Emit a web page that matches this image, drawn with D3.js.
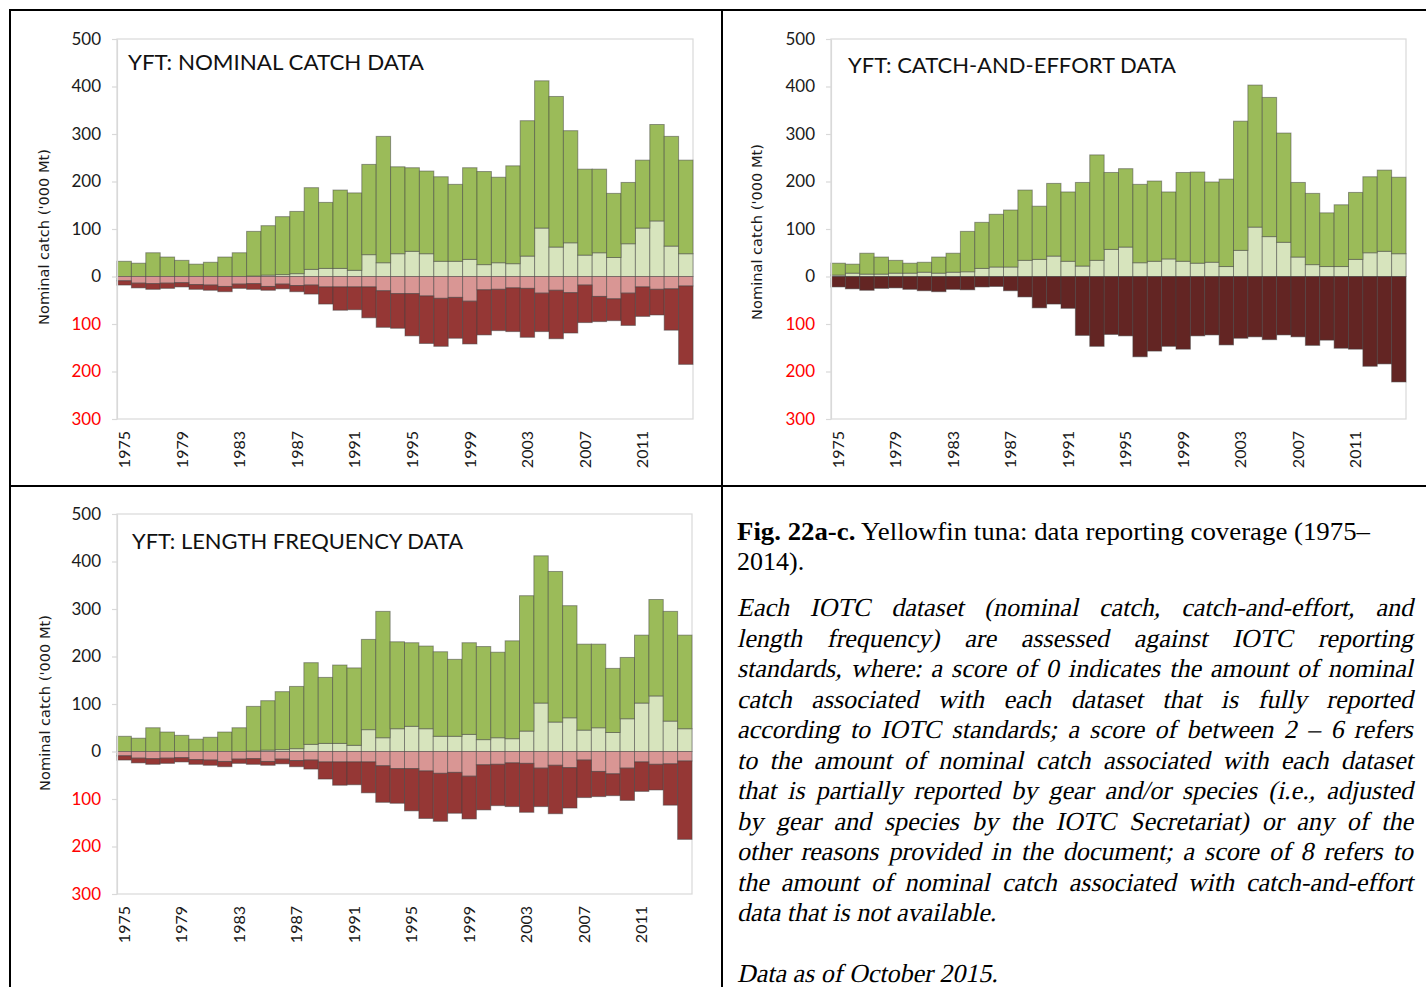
<!DOCTYPE html>
<html><head><meta charset="utf-8">
<script src="https://cdn.jsdelivr.net/npm/d3@7"></script>
<style>body{margin:0;background:#fff}svg{display:block}</style>
</head><body>
<svg id="fig" width="1426" height="987"></svg>
<script>
// ---------- DATA ('000 Mt) ----------
const years = [1975,1976,1977,1978,1979,1980,1981,1982,1983,1984,1985,1986,1987,1988,1989,1990,1991,1992,1993,1994,
               1995,1996,1997,1998,1999,2000,2001,2002,2003,2004,2005,2006,2007,2008,2009,2010,2011,2012,2013,2014];
const yearTicks = [1975,1979,1983,1987,1991,1995,1999,2003,2007,2011];
const yTicks = [500,400,300,200,100,0,-100,-200,-300];

// a) Nominal catch
const nomPosLower = [0,0,0,0,0,0,0,0,0,1,3,4,6,15,17,17,13,46,29,48,53,48,32,32,36,25,29,27,43,102,62,71,45,50,40,69,102,117,64,48];
const nomPosUpper = [32,28,50,41,34,26,30,41,50,94,104,122,131,172,139,165,163,190,266,183,176,174,178,162,193,196,180,206,285,310,317,236,181,176,135,129,143,203,231,197];
const nomNegUpper = [9,14,15,14,13,17,18,21,16,15,21,16,19,18,22,22,22,22,30,36,36,41,46,44,52,28,27,24,25,35,29,34,18,42,47,35,22,27,26,20];
const nomNegLower = [9,10,12,11,9,10,11,11,9,12,8,10,13,19,36,49,48,65,77,73,89,100,101,86,90,95,87,92,103,81,102,85,79,53,46,68,62,54,87,165];

// b) Catch-and-effort
const cePosLower = [3,7,5,5,7,7,9,7,9,10,17,20,20,34,36,43,32,22,34,57,62,29,32,37,32,28,30,21,55,104,84,72,41,25,21,21,36,50,53,48];
const cePosUpper = [25,19,44,36,27,21,21,34,40,85,97,111,120,148,112,153,146,176,222,162,165,165,169,141,187,192,169,184,272,299,293,230,157,150,113,130,141,160,171,161];
const ceNeg = [22,26,29,25,24,27,30,32,27,28,22,21,30,43,66,58,67,124,147,122,125,169,157,147,153,125,123,144,130,127,133,123,127,145,134,151,153,189,184,222];

// c) Length frequency
const lfPosLower = [0,0,0,0,0,0,0,0,0,1,3,4,6,15,17,17,13,46,29,48,53,48,32,32,36,25,29,27,43,102,62,71,45,50,40,69,102,117,64,48];
const lfPosUpper = [32,28,50,41,34,26,30,41,50,94,104,122,131,172,139,165,163,190,266,183,176,174,178,162,193,196,180,206,285,310,317,236,181,176,135,129,143,203,231,197];
const lfNegUpper = [9,14,15,14,13,17,18,21,16,15,21,16,19,18,22,22,22,22,30,36,36,41,46,44,52,28,27,24,25,35,29,34,18,42,47,35,22,27,26,20];
const lfNegLower = [9,10,12,11,9,10,11,11,9,12,8,10,13,19,36,49,48,65,77,73,89,100,101,86,90,95,87,92,103,81,102,85,79,53,46,68,62,54,87,165];

const titles = ["YFT: NOMINAL CATCH DATA","YFT: CATCH-AND-EFFORT DATA","YFT: LENGTH FREQUENCY DATA"];
const yLabel = "Nominal catch ('000 Mt)";

const captionBold = "Fig. 22a-c.";
const captionRest = " Yellowfin tuna: data reporting coverage (1975–";
const captionLine2 = "2014).";
const paraLines = [
 "Each IOTC dataset (nominal catch, catch-and-effort, and",
 "length frequency) are assessed against IOTC reporting",
 "standards, where: a score of 0 indicates the amount of nominal",
 "catch associated with each dataset that is fully reported",
 "according to IOTC standards; a score of between 2 – 6 refers",
 "to the amount of nominal catch associated with each dataset",
 "that is partially reported by gear and/or species (i.e., adjusted",
 "by gear and species by the IOTC Secretariat) or any of the",
 "other reasons provided in the document; a score of 8 refers to",
 "the amount of nominal catch associated with catch-and-effort",
 "data that is not available."
];
const dataNote = "Data as of October 2015.";

// ---------- DRAW ----------
const svg = d3.select('#fig');
svg.append('rect').attr('width',1426).attr('height',987).attr('fill','#fff');

const panels = [
 {left:117, right:693, top:39, bottom:419, title:titles[0], tx:128, ty:70, tlen:296, lx:44, ly:237,
  pos:[nomPosLower, nomPosUpper], neg:[nomNegUpper, nomNegLower],
  posCol:['#d7e4bd','#9bbb59'], negCol:['#d99694','#953735']},
 {left:831, right:1406, top:39, bottom:419, title:titles[1], tx:848, ty:73, tlen:328, lx:757, ly:232,
  pos:[cePosLower, cePosUpper], neg:[ceNeg],
  posCol:['#d7e4bd','#9bbb59'], negCol:['#632523']},
 {left:117, right:692, top:514, bottom:894, title:titles[2], tx:132, ty:549, tlen:331, lx:44.5, ly:703,
  pos:[lfPosLower, lfPosUpper], neg:[lfNegUpper, lfNegLower],
  posCol:['#d7e4bd','#9bbb59'], negCol:['#d99694','#953735']}
];

function drawPanel(p){
  const g = svg.append('g');
  const x = d3.scaleBand().domain(years).range([p.left, p.right]).padding(0);
  const y = d3.scaleLinear().domain([-300, 500]).range([p.bottom, p.top]);

  g.append('rect').attr('x',p.left).attr('y',p.top)
   .attr('width',p.right-p.left).attr('height',p.bottom-p.top)
   .attr('fill','none').attr('stroke','#d9d9d9').attr('stroke-width',1.2);

  const keys = [], colors = {};
  const rows = years.map((yr,i)=>{
    const r = {year:yr};
    p.pos.forEach((s,k)=>{ r['p'+k]=s[i]; });
    p.neg.forEach((s,k)=>{ r['n'+k]=-s[i]; });
    return r;
  });
  p.pos.forEach((s,k)=>{ keys.push('p'+k); colors['p'+k]=p.posCol[k]; });
  p.neg.forEach((s,k)=>{ keys.push('n'+k); colors['n'+k]=p.negCol[k]; });

  const series = d3.stack().keys(keys).offset(d3.stackOffsetDiverging)(rows);

  g.selectAll('g.layer').data(series).join('g').attr('class','layer')
   .attr('fill', d=>colors[d.key])
   .selectAll('rect').data(d=>d).join('rect')
   .attr('x', d=>x(d.data.year))
   .attr('width', x.bandwidth())
   .attr('y', d=>y(Math.max(d[0],d[1])))
   .attr('height', d=>Math.abs(y(d[0])-y(d[1])))
   .attr('stroke','#3f3f3f').attr('stroke-opacity',0.5).attr('stroke-width',1);

  const ya = g.append('g').attr('transform',`translate(${p.left},0)`)
    .call(d3.axisLeft(y).tickValues(yTicks).tickFormat(d=>Math.abs(d)).tickSize(5).tickSizeOuter(0).tickPadding(11));
  ya.select('.domain').attr('stroke','#d9d9d9').attr('stroke-width',1.2);
  ya.selectAll('.tick line').attr('stroke','#d9d9d9').attr('stroke-width',1.2);
  ya.selectAll('.tick text').attr('fill', d=> d<0 ? '#ff0000' : '#1a1a1a')
    .style('font-family','Lato').style('font-size','17px');

  const xa = g.append('g').attr('transform',`translate(0,${p.bottom})`)
    .call(d3.axisBottom(x).tickValues(yearTicks).tickSize(0));
  xa.select('.domain').remove();
  xa.selectAll('.tick text')
    .attr('transform','rotate(-90)').attr('text-anchor','end')
    .attr('x',-12).attr('y',0).attr('dy','0.36em')
    .attr('fill','#1a1a1a').style('font-family','Lato').style('font-size','16px');

  g.append('text').attr('x',p.tx).attr('y',p.ty).text(p.title)
   .attr('fill','#111').style('font-family','Lato').style('font-size','22px')
   .attr('textLength',p.tlen).attr('lengthAdjust','spacingAndGlyphs');

  g.append('text').attr('transform',`translate(${p.lx},${p.ly}) rotate(-90)`)
   .attr('text-anchor','middle').attr('dy','0.36em').text(yLabel)
   .attr('fill','#1a1a1a').style('font-family','DejaVu Sans').style('font-size','14.6px');
}
panels.forEach(drawPanel);

// ---------- frame lines ----------
const frame = svg.append('g').attr('stroke','#000').attr('stroke-width',2);
frame.append('line').attr('x1',9).attr('x2',1426).attr('y1',10).attr('y2',10);
frame.append('line').attr('x1',10).attr('x2',10).attr('y1',9).attr('y2',987);
frame.append('line').attr('x1',722).attr('x2',722).attr('y1',9).attr('y2',987);
frame.append('line').attr('x1',9).attr('x2',1426).attr('y1',486).attr('y2',486);

// ---------- caption text ----------
const TX = 737, TW = 676, FS = 26;
const SERIF = '"Liberation Serif","Times New Roman",Tinos,serif';
const cap = svg.append('text').attr('x',TX).attr('y',540)
  .style('font-family',SERIF).style('font-size',FS+'px').attr('fill','#000');
cap.append('tspan').style('font-weight','bold').text(captionBold);
cap.append('tspan').text(captionRest);
cap.attr('textLength', 633).attr('lengthAdjust','spacingAndGlyphs');
svg.append('text').attr('x',TX).attr('y',570).text(captionLine2)
  .style('font-family',SERIF).style('font-size',FS+'px').attr('fill','#000');

// italic emulated by skewing upright serif glyphs about the baseline
function addLine(str, yb, justify){
  const t = svg.append('text').attr('y',0)
    .style('font-family',SERIF).style('font-size',FS+'px').attr('fill','#000');
  const words = str.split(' ');
  const spans = words.map(w=>t.append('tspan').text(w));
  const widths = spans.map(s=>s.node().getComputedTextLength());
  const W = d3.sum(widths);
  const nat = FS*0.25;
  let gap = nat, scale = 1;
  if (justify && words.length>1){
    gap = (TW - W)/(words.length-1);
    if (gap < nat*0.8){ gap = nat*0.8; scale = TW/(W + gap*(words.length-1)); }
  }
  let cx = 0;
  spans.forEach((s,i)=>{ s.attr('x', cx); cx += widths[i] + gap; });
  t.attr('transform',`translate(${TX},${yb}) scale(${scale},1) skewX(-12)`);
}
paraLines.forEach((l,i)=>addLine(l, 616 + i*30.5, i < paraLines.length-1));
addLine(dataNote, 982, false);
</script>
</body></html>
